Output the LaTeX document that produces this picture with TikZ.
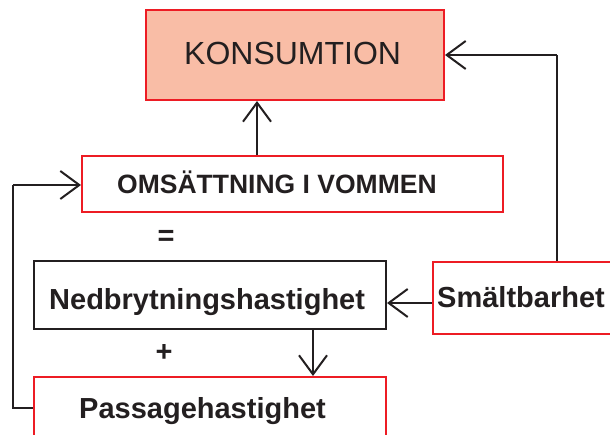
\documentclass[tikz,border=0pt]{standalone}
\usepackage{fontspec}
\setmainfont{Liberation Sans}
\usetikzlibrary{arrows.meta}
\definecolor{boxred}{HTML}{ED1C24}
\definecolor{salmon}{HTML}{F9BDA6}
\definecolor{ink}{HTML}{231F20}
\tikzset{
  redbox/.style={draw=boxred, line width=2pt, rectangle, inner sep=0pt},
  blackbox/.style={draw=ink, line width=2pt, rectangle, inner sep=0pt},
  conn/.style={draw=ink, line width=2pt, -{Straight Barb[length=19pt,width=28pt,line width=2pt]}},
  plain/.style={draw=ink, line width=2pt},
  txt/.style={text=ink, inner sep=0pt, anchor=base west},
  lbl/.style={text=ink, font=\fontsize{29}{31}\selectfont\bfseries, inner sep=0pt}
}
\begin{document}
\begin{tikzpicture}[x=1pt,y=-1pt]
\useasboundingbox (0,0) rectangle (610,435);
\clip (0,0) rectangle (610,435);
% boxes
\node[redbox, fill=salmon, minimum width=298pt, minimum height=90pt] (kons) at (295,55) {};
\node[redbox, minimum width=421pt, minimum height=56pt] (oms) at (292.5,184) {};
\node[blackbox, minimum width=352pt, minimum height=68pt] (ned) at (210,295) {};
\node[redbox, minimum width=182pt, minimum height=72pt] (smalt) at (524,298) {};
\node[redbox, minimum width=352pt, minimum height=70pt] (pass) at (210,412) {};
% texts
\node[txt, font=\fontsize{32}{34}\selectfont] (konstext) at (184,65) {KONSUMTION};
\node[txt, font=\fontsize{26.5}{28}\selectfont\bfseries] (omstext) at (117,194) {OMSÄTTNING I VOMMEN};
\node[txt, font=\fontsize{29}{31}\selectfont\bfseries] (nedtext) at (49,310) {Nedbrytningshastighet};
\node[txt, font=\fontsize{29}{31}\selectfont\bfseries] (smalttext) at (437,308) {Smältbarhet};
\node[txt, font=\fontsize{29}{31}\selectfont\bfseries] (passtext) at (79,418) {Passagehastighet};
\node[lbl] (eq) at (166,238) {=};
\node[lbl] (plus) at (164,353) {+};
% connectors
\coordinate (c1) at (557,55);
\coordinate (c2) at (13,185);
\coordinate (c3) at (13,408);
\draw[plain] (smalt.north -| c1) -- (c1);
\draw[conn] (c1) -- (c1 -| kons.east);
\draw[conn] (oms.north -| 257,0) -- (kons.south -| 257,0);
\draw[conn] (smalt.west |- 0,303) -- (ned.east |- 0,303);
\draw[conn] (ned.south -| 313,0) -- (pass.north -| 313,0);
\draw[plain] (pass.west |- c3) -- (c3) -- (c2);
\draw[conn] (c2) -- (c2 -| oms.west);
\end{tikzpicture}
\end{document}
